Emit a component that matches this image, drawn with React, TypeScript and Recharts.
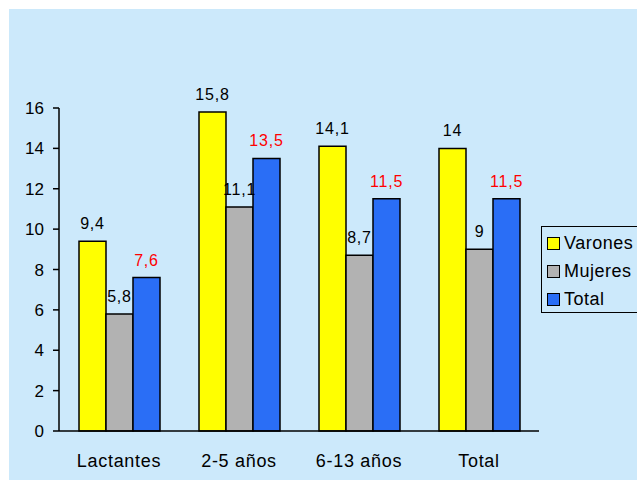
import { BarChart, Bar, XAxis, YAxis, LabelList, Legend } from "recharts";

const categories = ["Lactantes", "2-5 años", "6-13 años", "Total"];
const seriesNames = ["Varones", "Mujeres", "Total"];
const varones = [9.4, 15.8, 14.1, 14];
const mujeres = [5.8, 11.1, 8.7, 9];
const total = [7.6, 13.5, 11.5, 11.5];
const yTicks = [0, 2, 4, 6, 8, 10, 12, 14, 16];
const boundaryTicks = [0, 1, 2, 3, 4];

const data = categories.map((name, i) => ({
  name,
  pos: i + 0.5,
  Varones: varones[i],
  Mujeres: mujeres[i],
  Total: total[i],
}));

const BG = "#cce9fb";

const fmt = (v: any) => String(v).replace(".", ",");

function LegendBox({ payload }: any) {
  // keep the legend in series order rather than alphabetical
  const items = [...(payload || [])].sort(
    (a: any, b: any) => seriesNames.indexOf(a.value) - seriesNames.indexOf(b.value)
  );
  return (
    <div
      style={{
        border: "1px solid #000",
        width: 110,
        height: 83,
        padding: "2px 0 0 5px",
        boxSizing: "content-box",
      }}
    >
      {items.map((p: any) => (
        <div
          key={p.value}
          style={{ display: "flex", alignItems: "center", height: 28 }}
        >
          <span
            style={{
              width: 11,
              height: 11,
              background: p.color,
              border: "1px solid #000",
              marginRight: 4,
              flexShrink: 0,
            }}
          />
          <span style={{ fontSize: 18, color: "#000", letterSpacing: 0.5 }}>{p.value}</span>
        </div>
      ))}
    </div>
  );
}

export default function App() {
  const labelStyle = { fontSize: 16, letterSpacing: 0.8 };
  return (
    <div
      style={{
        position: "fixed",
        left: 9,
        top: 9,
        width: 628,
        height: 471,
        overflow: "hidden",
        background: BG,
        fontFamily: "'Liberation Sans', Arial, sans-serif",
      }}
    >
      <BarChart
        width={700}
        height={471}
        data={data}
        margin={{ top: 99, right: 170, left: 0, bottom: 19 }}
        barCategoryGap={20}
        barGap={0}
      >
        <XAxis
          xAxisId="bounds"
          type="number"
          dataKey="pos"
          domain={[0, 4]}
          ticks={boundaryTicks}
          tick={() => <g />}
          tickSize={6}
          axisLine={false}
          tickLine={{ stroke: "#000", strokeWidth: 1.5 }}
          height={0}
        />
        <XAxis
          dataKey="name"
          tickLine={false}
          tickSize={0}
          tickMargin={23}
          axisLine={{ stroke: "#000", strokeWidth: 1.5 }}
          tick={{ fill: "#000", fontSize: 18, letterSpacing: 0.7 }}
          height={30}
        />
        <YAxis
          domain={[0, 16]}
          ticks={yTicks}
          width={50}
          tickSize={6}
          tickMargin={9}
          axisLine={{ stroke: "#000", strokeWidth: 1.5 }}
          tickLine={{ stroke: "#000", strokeWidth: 1.5 }}
          tick={{ fill: "#000", fontSize: 17 }}
          interval={0}
        />
        <Legend
          layout="horizontal"
          align="center"
          verticalAlign="middle"
          content={<LegendBox />}
          wrapperStyle={{ left: 532, top: 217, width: 120, height: 86 }}
        />
        <Bar dataKey="Varones" fill="#ffff00" stroke="#000" strokeWidth={1.5} isAnimationActive={false}>
          <LabelList dataKey="Varones" position="top" offset={12} fill="#000" style={labelStyle} formatter={fmt} />
        </Bar>
        <Bar dataKey="Mujeres" fill="#b2b2b2" stroke="#000" strokeWidth={1.5} isAnimationActive={false}>
          <LabelList dataKey="Mujeres" position="top" offset={12} fill="#000" style={labelStyle} formatter={fmt} />
        </Bar>
        <Bar dataKey="Total" fill="#2a6ef6" stroke="#000" strokeWidth={1.5} isAnimationActive={false}>
          <LabelList dataKey="Total" position="top" offset={12} fill="#ff0000" style={labelStyle} formatter={fmt} />
        </Bar>
      </BarChart>
    </div>
  );
}
